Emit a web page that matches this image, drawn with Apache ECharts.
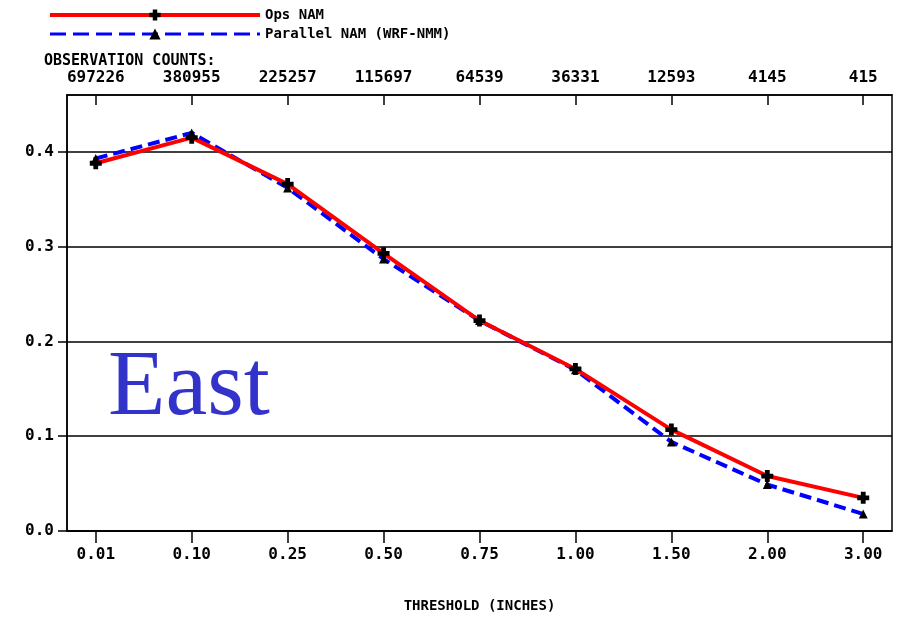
<!DOCTYPE html>
<html>
<head>
<meta charset="utf-8">
<script src="https://cdn.jsdelivr.net/npm/echarts@6/dist/echarts.min.js"></script>
<style>html,body{margin:0;padding:0;background:#fff}#c{width:897px;height:618px}</style>
</head>
<body>
<div id="c"></div>
<script>
var thresholds = ['0.01','0.10','0.25','0.50','0.75','1.00','1.50','2.00','3.00'];
var obsCounts = ['697226','380955','225257','115697','64539','36331','12593','4145','415'];
var opsNAM = [0.388, 0.415, 0.366, 0.293, 0.222, 0.171, 0.107, 0.058, 0.035];
var parallelNAM = [0.393, 0.420, 0.362, 0.287, 0.222, 0.170, 0.094, 0.049, 0.018];
var yTicks = [0, 0.1, 0.2, 0.3, 0.4];

var idx = thresholds.map(function(_, i){ return i; });
var mono = '"DejaVu Sans Mono", monospace';
var chart = echarts.init(document.getElementById('c'), null, {renderer:'canvas'});
var plusPath = 'path://M3,0H7V3H10V7H7V10H3V7H0V3H3Z';

chart.setOption({
  animation: false,
  backgroundColor: '#ffffff',
  title: {
    text: 'OBSERVATION COUNTS:',
    left: 44, top: 54, padding: 0,
    textStyle: {fontFamily: mono, fontWeight: 'bold', fontSize: 15, color: '#000'}
  },
  legend: {
    orient: 'vertical', left: 48, top: 8, padding: 0,
    itemWidth: 210, itemHeight: 14, itemGap: 5,
    textStyle: {fontFamily: mono, fontWeight: 'bold', fontSize: 14, color: '#000'},
    data: [
      {name: 'Ops NAM', lineStyle: {width: 4}},
      {name: 'Parallel NAM (WRF-NMM)', lineStyle: {width: 3, type: [16, 7]}}
    ]
  },
  grid: {left: 67, right: 5, top: 95, bottom: 87, show: true, borderColor: '#000', borderWidth: 1.5, containLabel: false},
  xAxis: [{
    type: 'value', min: -0.3, max: 8.3, position: 'bottom',
    name: 'THRESHOLD (INCHES)', nameLocation: 'middle', nameGap: 68,
    nameTextStyle: {fontFamily: mono, fontWeight: 'bold', fontSize: 14, color: '#000'},
    axisLine: {show: true, onZero: false, lineStyle: {color: '#000', width: 1.5}},
    axisTick: {show: true, inside: false, length: 12, customValues: idx, lineStyle: {color: '#000', width: 1.5}},
    axisLabel: {customValues: idx, margin: 16, fontFamily: mono, fontWeight: 'bold', fontSize: 16, color: '#000',
      formatter: function(v){ return thresholds[Math.round(v)] || ''; }},
    splitLine: {show: false}
  }, {
    type: 'value', min: -0.3, max: 8.3, position: 'top',
    axisLine: {show: true, onZero: false, lineStyle: {color: '#000', width: 1.5}},
    axisTick: {show: true, inside: true, length: 10, customValues: idx, lineStyle: {color: '#000', width: 1.5}},
    axisLabel: {customValues: idx, margin: 9, fontFamily: mono, fontWeight: 'bold', fontSize: 16, color: '#000',
      formatter: function(v){ return obsCounts[Math.round(v)] || ''; }},
    splitLine: {show: false}
  }],
  yAxis: {
    type: 'value', min: 0, max: 0.46,
    axisLine: {show: true, onZero: false, lineStyle: {color: '#000', width: 1.5}},
    axisTick: {show: true, length: 9, customValues: yTicks, lineStyle: {color: '#000', width: 1.5}},
    axisLabel: {customValues: yTicks, margin: 13, fontFamily: mono, fontWeight: 'bold', fontSize: 16, color: '#000',
      formatter: function(v){ return v.toFixed(1); }},
    splitLine: {show: true, lineStyle: {color: '#000', width: 1.5}}
  },
  graphic: [{
    type: 'text', left: 108, top: 342, z: 50,
    style: {text: 'East', fontFamily: '"Liberation Serif", "Times New Roman", serif', fontSize: 94, fill: '#3333cc'}
  }],
  series: [{
    name: 'Parallel NAM (WRF-NMM)', type: 'line', xAxisIndex: 0,
    data: idx.map(function(i){ return [i, parallelNAM[i]]; }),
    lineStyle: {color: '#0000ff', width: 4, type: [12, 6]},
    itemStyle: {color: '#000'},
    symbol: 'triangle', symbolSize: 9, showAllSymbol: true, z: 2
  }, {
    name: 'Ops NAM', type: 'line', xAxisIndex: 0,
    data: idx.map(function(i){ return [i, opsNAM[i]]; }),
    lineStyle: {color: '#ff0000', width: 4},
    itemStyle: {color: '#000'},
    symbol: plusPath, symbolSize: 12, showAllSymbol: true, z: 3
  }]
});
</script>
</body>
</html>
